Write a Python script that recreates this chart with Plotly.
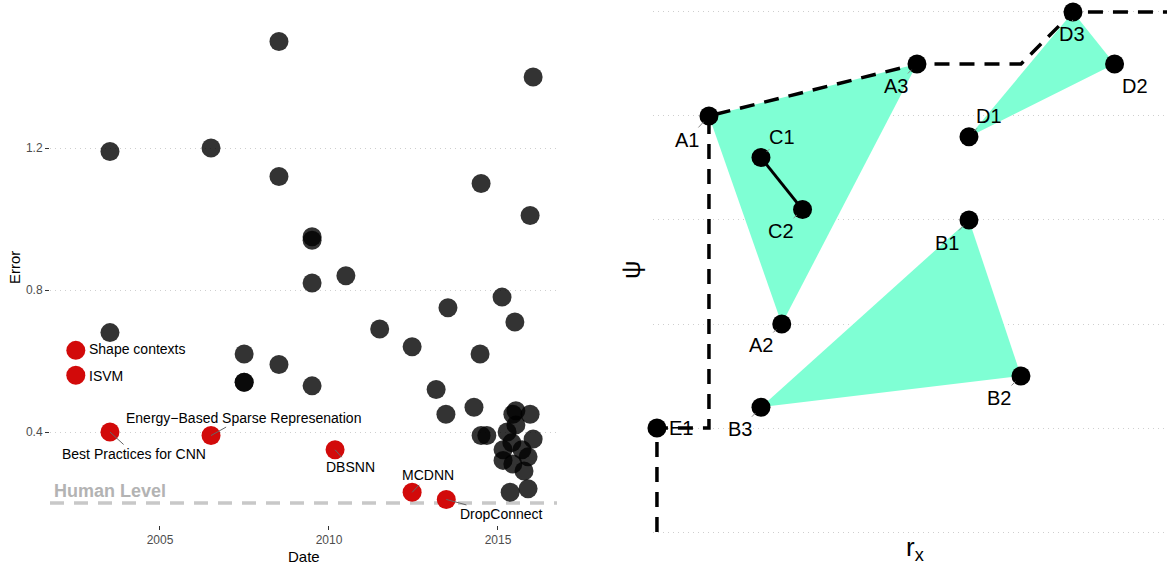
import plotly.graph_objects as go

# ---------------- data: left panel (MNIST error over time) ----------------
GRAY_YEAR = [2008.52, 2003.52, 2006.51, 2008.52, 2016.04, 2014.50, 2015.95, 2009.50, 2009.50,
             2010.50, 2009.50, 2015.12, 2013.52, 2015.50, 2003.52, 2011.50, 2012.46, 2007.49,
             2014.47, 2008.52, 2007.49, 2007.49, 2009.50, 2013.17, 2013.46, 2014.29, 2014.50,
             2014.67, 2015.53, 2015.44, 2015.95, 2015.53, 2015.27, 2016.04, 2015.41, 2015.15,
             2015.71, 2015.89, 2015.15, 2015.44, 2015.77, 2015.36, 2015.89]
GRAY_ERR = [1.50, 1.19, 1.20, 1.12, 1.40, 1.10, 1.01, 0.95, 0.94,
            0.84, 0.82, 0.78, 0.75, 0.71, 0.68, 0.69, 0.64, 0.62,
            0.62, 0.59, 0.54, 0.54, 0.53, 0.52, 0.45, 0.47, 0.39,
            0.39, 0.46, 0.45, 0.45, 0.42, 0.40, 0.38, 0.37, 0.35,
            0.35, 0.33, 0.32, 0.31, 0.29, 0.23, 0.24]

RED_NAMES = ["Shape contexts", "ISVM", "Best Practices for CNN",
             "Energy\u2212Based Sparse Represenation", "DBSNN", "MCDNN", "DropConnect"]
RED_YEAR = [2002.51, 2002.51, 2003.52, 2006.51, 2010.18, 2012.46, 2013.47]
RED_ERR = [0.63, 0.56, 0.40, 0.39, 0.35, 0.23, 0.21]

HUMAN_LEVEL = 0.2
YEAR_TICKS = [2005, 2010, 2015]
ERR_TICKS = [0.4, 0.8, 1.2]
ERR_TICK_TEXT = ["0.4", "0.8", "1.2"]

# ---------------- data: right panel (geometry) ----------------
PT_NAMES = ["A1", "A2", "A3", "B1", "B2", "B3", "C1", "C2", "D1", "D2", "D3", "E1"]
PT_RX = [0.5, 1.2, 2.5, 3.0, 3.5, 1.0, 1.0, 1.4, 3.0, 4.4, 4.0, 0.0]
PT_PSI = [4.0, 2.0, 4.5, 3.0, 1.5, 1.2, 3.6, 3.1, 3.8, 4.5, 5.0, 1.0]
TRIANGLES = [["A1", "A2", "A3"], ["B1", "B2", "B3"], ["D1", "D2", "D3"]]
SEGMENT = ["C1", "C2"]
FRONT_RX = [0.0, 0.0, 0.5, 0.5, 2.5, 3.5, 4.0, 5.0]
FRONT_PSI = [0.0, 1.0, 1.0, 4.0, 4.5, 4.5, 5.0, 5.0]
PSI_GRID = [0, 1, 2, 3, 4, 5]

# ---------------- styling (label offsets in pixels) ----------------
RED_DX = [11, 11, 24, 32, 15, 16, 55]
RED_DY = [-1, 1, 22, -18, 17, -17, 15]
RED_ARROW = [False, False, True, True, True, True, True]
PT_DX = [-22, -21, -21, -22, -22, -21, 21, -22, 20, 20, -1, 24]
PT_DY = [24, 21, 22, 23, 22, 22, -21, 21, -21, 22, 22, 0]
PT_ARROW = [True] * 11 + [False]

W, H = 1167, 565
FONT = "Liberation Sans, Arial, Helvetica, sans-serif"

fig = go.Figure()

# Left panel
fig.add_trace(go.Scatter(x=GRAY_YEAR, y=GRAY_ERR, mode="markers",
                         marker=dict(size=19, color="rgba(0,0,0,0.8)", line=dict(width=0)),
                         xaxis="x", yaxis="y", hoverinfo="skip"))
fig.add_trace(go.Scatter(x=RED_YEAR, y=RED_ERR, mode="markers",
                         marker=dict(size=19, color="#d20a0a", line=dict(width=0)),
                         xaxis="x", yaxis="y", hoverinfo="skip"))

fig.add_shape(type="line", xref="x domain", yref="y", x0=0, x1=1,
              y0=HUMAN_LEVEL, y1=HUMAN_LEVEL,
              line=dict(color="#c8c8c8", width=3.5, dash="14px,10px"), layer="below")

annotations = []
annotations.append(dict(xref="x domain", yref="y", x=0, y=HUMAN_LEVEL, xanchor="left",
                        yanchor="bottom", xshift=2, yshift=0, showarrow=False,
                        text="<b>Human Level</b>", font=dict(size=18, color="#b3b3b3", family=FONT)))
for name, xv, yv, dx, dy, arr in zip(RED_NAMES, RED_YEAR, RED_ERR, RED_DX, RED_DY, RED_ARROW):
    if arr:
        annotations.append(dict(xref="x", yref="y", x=xv, y=yv, text=name, showarrow=True,
                                ax=dx, ay=dy, arrowhead=0, arrowwidth=1, arrowcolor="#666666",
                                standoff=0, font=dict(size=14, color="black", family=FONT)))
    else:
        annotations.append(dict(xref="x", yref="y", x=xv, y=yv, text=name, showarrow=False,
                                xanchor="left", yanchor="middle", xshift=dx, yshift=-dy,
                                font=dict(size=14, color="black", family=FONT)))

# Right panel
coords = {n: (xv, yv) for n, xv, yv in zip(PT_NAMES, PT_RX, PT_PSI)}
for tri in TRIANGLES:
    xs = [coords[n][0] for n in tri] + [coords[tri[0]][0]]
    ys = [coords[n][1] for n in tri] + [coords[tri[0]][1]]
    fig.add_trace(go.Scatter(x=xs, y=ys, mode="lines", fill="toself", fillcolor="#7FFFD4",
                             line=dict(width=0, color="#7FFFD4"), xaxis="x2", yaxis="y2",
                             hoverinfo="skip"))
fig.add_trace(go.Scatter(x=FRONT_RX, y=FRONT_PSI, mode="lines",
                         line=dict(color="black", width=3.5, dash="15px,10px"),
                         xaxis="x2", yaxis="y2", hoverinfo="skip"))
fig.add_trace(go.Scatter(x=[coords[n][0] for n in SEGMENT], y=[coords[n][1] for n in SEGMENT],
                         mode="lines", line=dict(color="black", width=3),
                         xaxis="x2", yaxis="y2", hoverinfo="skip"))
fig.add_trace(go.Scatter(x=PT_RX, y=PT_PSI, mode="markers",
                         marker=dict(size=19, color="black", line=dict(width=0)),
                         xaxis="x2", yaxis="y2", cliponaxis=False, hoverinfo="skip"))

for name, xv, yv, dx, dy, arr in zip(PT_NAMES, PT_RX, PT_PSI, PT_DX, PT_DY, PT_ARROW):
    if arr:
        annotations.append(dict(xref="x2", yref="y2", x=xv, y=yv, text=name, showarrow=True,
                                ax=dx, ay=dy, arrowhead=0, arrowwidth=1, arrowcolor="#888888",
                                standoff=8, font=dict(size=20, color="black", family=FONT)))
    else:
        annotations.append(dict(xref="x2", yref="y2", x=xv, y=yv, text=name, showarrow=False,
                                xanchor="center", yanchor="middle", xshift=dx, yshift=-dy,
                                font=dict(size=20, color="black", family=FONT)))

# Axis titles
TITLE = dict(xref="paper", yref="paper", showarrow=False, xanchor="center", yanchor="middle")
annotations += [
    dict(TITLE, x=15 / W, y=1 - 268 / H, text="Error", textangle=-90,
         font=dict(size=15, color="black", family=FONT)),
    dict(TITLE, x=304 / W, y=1 - 556 / H, text="Date",
         font=dict(size=15, color="black", family=FONT)),
    dict(TITLE, x=631 / W, y=1 - 270 / H, text="\u03c8", textangle=-90,
         font=dict(size=26, color="black", family=FONT)),
    dict(TITLE, x=915 / W, y=1 - 548 / H, text="r<sub>x</sub>",
         font=dict(size=26, color="black", family=FONT)),
]

GRID = dict(showgrid=True, gridcolor="#cfcfcf", gridwidth=1, griddash="1px,4px")

fig.update_layout(
    width=W, height=H, margin=dict(l=0, r=0, t=0, b=0),
    paper_bgcolor="white", plot_bgcolor="white", showlegend=False, hovermode=False,
    font=dict(family=FONT),
    xaxis=dict(domain=[50 / W, 557 / W], range=[2001.746, 2016.746], tickvals=YEAR_TICKS,
               ticks="outside", ticklen=4, tickwidth=1, tickcolor="#333333",
               tickfont=dict(size=12, color="#4d4d4d"), showgrid=False, zeroline=False,
               showline=False, anchor="y"),
    yaxis=dict(domain=[1 - 525 / H, 1 - 5 / H], range=[0.138, 1.603], tickvals=ERR_TICKS,
               ticktext=ERR_TICK_TEXT, ticks="outside", ticklen=4, tickwidth=1,
               tickcolor="#333333", tickfont=dict(size=12, color="#4d4d4d"),
               zeroline=False, showline=False, anchor="x", **GRID),
    xaxis2=dict(domain=[653 / W, 1], range=[-0.038, 4.904], showgrid=False, zeroline=False,
                showticklabels=False, ticks="", showline=False, anchor="y2"),
    yaxis2=dict(domain=[0, 1], range=[-0.317, 5.115], tickvals=PSI_GRID, showticklabels=False,
                ticks="", zeroline=False, showline=False, anchor="x2", **GRID),
    annotations=annotations,
)

fig.write_html("out.html", config={"displayModeBar": False},
               post_script="document.body.style.margin='0px';document.body.style.overflow='hidden';")
